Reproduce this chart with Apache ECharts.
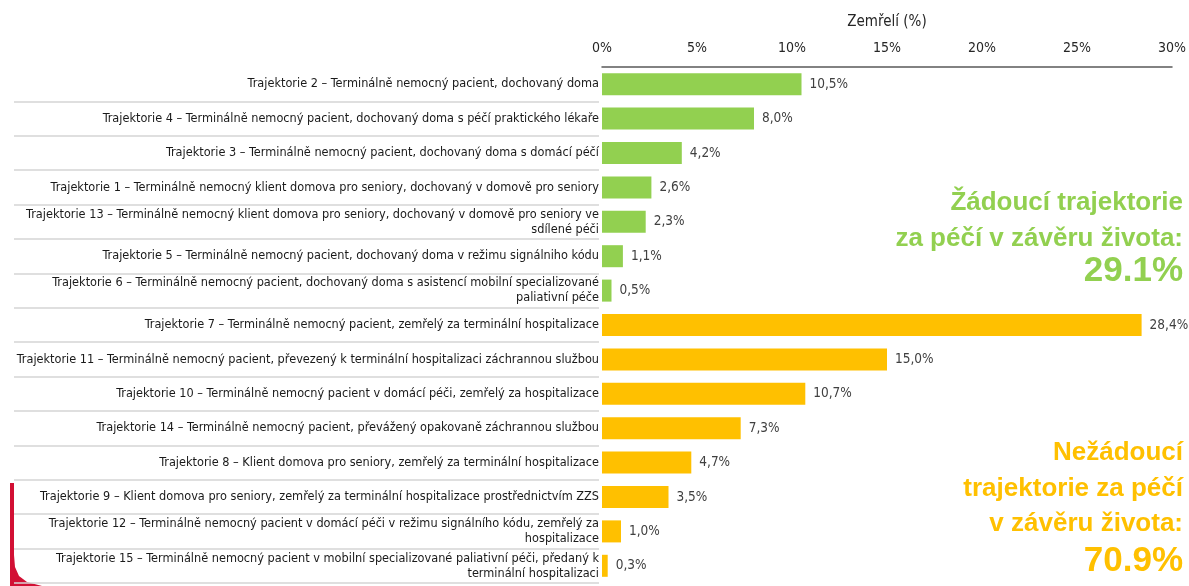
<!DOCTYPE html>
<html>
<head>
<meta charset="utf-8">
<script src="https://cdn.jsdelivr.net/npm/echarts@6/dist/echarts.min.js"></script>
<style>
  html, body { margin: 0; padding: 0; background: #fff; }
  #chart { width: 1189px; height: 586px; }
</style>
</head>
<body>
<div id="chart"></div>
<script>
// trajektorie (shora dolů), první 'pocetZadoucich' jsou žádoucí
var kategorie = [
  'Trajektorie 2 – Terminálně nemocný pacient, dochovaný doma',
  'Trajektorie 4 – Terminálně nemocný pacient, dochovaný doma s péčí praktického lékaře',
  'Trajektorie 3 – Terminálně nemocný pacient, dochovaný doma s domácí péčí',
  'Trajektorie 1 – Terminálně nemocný klient domova pro seniory, dochovaný v domově pro seniory',
  'Trajektorie 13 – Terminálně nemocný klient domova pro seniory, dochovaný v domově pro seniory ve\nsdílené péči',
  'Trajektorie 5 – Terminálně nemocný pacient, dochovaný doma v režimu signálniho kódu',
  'Trajektorie 6 – Terminálně nemocný pacient, dochovaný doma s asistencí mobilní specializované\npaliativní péče',
  'Trajektorie 7 – Terminálně nemocný pacient, zemřelý za terminální hospitalizace',
  'Trajektorie 11 – Terminálně nemocný pacient, převezený k terminální hospitalizaci záchrannou službou',
  'Trajektorie 10 – Terminálně nemocný pacient v domácí péči, zemřelý za hospitalizace',
  'Trajektorie 14 – Terminálně nemocný pacient, převážený opakovaně záchrannou službou',
  'Trajektorie 8 – Klient domova pro seniory, zemřelý za terminální hospitalizace',
  'Trajektorie 9 – Klient domova pro seniory, zemřelý za terminální hospitalizace prostřednictvím ZZS',
  'Trajektorie 12 – Terminálně nemocný pacient v domácí péči v režimu signálního kódu, zemřelý za\nhospitalizace',
  'Trajektorie 15 – Terminálně nemocný pacient v mobilní specializované paliativní péči, předaný k\nterminální hospitalizaci'
];
var zemreli = [10.5, 8.0, 4.2, 2.6, 2.3, 1.1, 0.5, 28.4, 15.0, 10.7, 7.3, 4.7, 3.5, 1.0, 0.3];
var pocetZadoucich = 7;
var osaTicky = [0, 5, 10, 15, 20, 25, 30];

var zadouciText = ['Žádoucí trajektorie', 'za péčí v závěru života:'];
var zadouciPodil = '29.1%';
var nezadouciText = ['Nežádoucí', 'trajektorie za péčí', 'v závěru života:'];
var nezadouciPodil = '70.9%';

var ZELENA = '#92D050';
var ZLUTA = '#FFC000';
var FONT = "'Liberation Sans Narrow', 'DejaVu Sans Condensed', 'Liberation Sans', sans-serif";
var FONT_B = "'Liberation Sans', Arial, sans-serif";

var myChart = echarts.init(document.getElementById('chart'));

// texty vpravo
var grafika = [];
var yZ = [202, 238];
zadouciText.forEach(function (t, i) {
  grafika.push({ type: 'text', right: 6, top: yZ[i] - 12,
    style: { text: t, fill: ZELENA, font: 'bold 26px ' + FONT_B, textAlign: 'right' } });
});
grafika.push({ type: 'text', right: 6, top: 254,
  style: { text: zadouciPodil, fill: ZELENA, font: 'bold 35px ' + FONT_B, textAlign: 'right' } });
var yN = [452, 488, 523];
nezadouciText.forEach(function (t, i) {
  grafika.push({ type: 'text', right: 6, top: yN[i] - 12,
    style: { text: t, fill: ZLUTA, font: 'bold 26px ' + FONT_B, textAlign: 'right' } });
});
grafika.push({ type: 'text', right: 6, top: 544,
  style: { text: nezadouciPodil, fill: ZLUTA, font: 'bold 35px ' + FONT_B, textAlign: 'right' } });
// červený okraj slidu vlevo dole
grafika.push({ type: 'polygon', silent: true,
  shape: { points: [[10, 483], [14, 483], [14, 555], [15, 567], [19, 576], [27, 582], [42, 586], [10, 586]] },
  style: { fill: '#D21034' } });

var option = {
  animation: false,
  textStyle: { fontFamily: FONT },
  graphic: grafika,
  grid: [
    { left: 602, right: 17, top: 67, bottom: 3, containLabel: false },
    { left: 14, width: 585, top: 67, bottom: 3, containLabel: false }
  ],
  xAxis: [{
    type: 'value',
    gridIndex: 0,
    position: 'top',
    min: osaTicky[0],
    max: osaTicky[osaTicky.length - 1],
    interval: osaTicky[1] - osaTicky[0],
    name: 'Zemřelí (%)',
    nameLocation: 'middle',
    nameGap: 37,
    nameTextStyle: { fontSize: 15, color: '#262626', fontFamily: FONT },
    axisLine: { show: true, lineStyle: { color: '#595959', width: 1.5 } },
    axisTick: { show: false },
    splitLine: { show: false },
    axisLabel: { formatter: '{value}%', fontSize: 14, color: '#262626', margin: 12 }
  }, {
    type: 'value', gridIndex: 1, show: false
  }],
  yAxis: [{
    type: 'category',
    gridIndex: 0,
    inverse: true,
    data: kategorie,
    axisLine: { show: false },
    axisTick: { show: false },
    axisLabel: { fontSize: 12.6, color: '#1a1a1a', margin: 3, lineHeight: 15, interval: 0 }
  }, {
    type: 'category',
    gridIndex: 1,
    inverse: true,
    data: kategorie,
    axisLine: { show: false },
    axisTick: { show: false },
    axisLabel: { show: false },
    splitLine: { show: true, showMinLine: false, showMaxLine: true, lineStyle: { color: '#d4d4d4', width: 1.5 } }
  }],
  series: [{
    type: 'bar',
    xAxisIndex: 0,
    yAxisIndex: 0,
    data: zemreli,
    barCategoryGap: '36%',
    itemStyle: {
      color: function (p) { return p.dataIndex < pocetZadoucich ? ZELENA : ZLUTA; }
    },
    label: {
      show: true,
      position: 'right',
      distance: 8,
      fontSize: 13.5,
      color: '#404040',
      formatter: function (p) { return p.value.toFixed(1).replace('.', ',') + '%'; }
    }
  }]
};

myChart.setOption(option);
</script>
</body>
</html>
